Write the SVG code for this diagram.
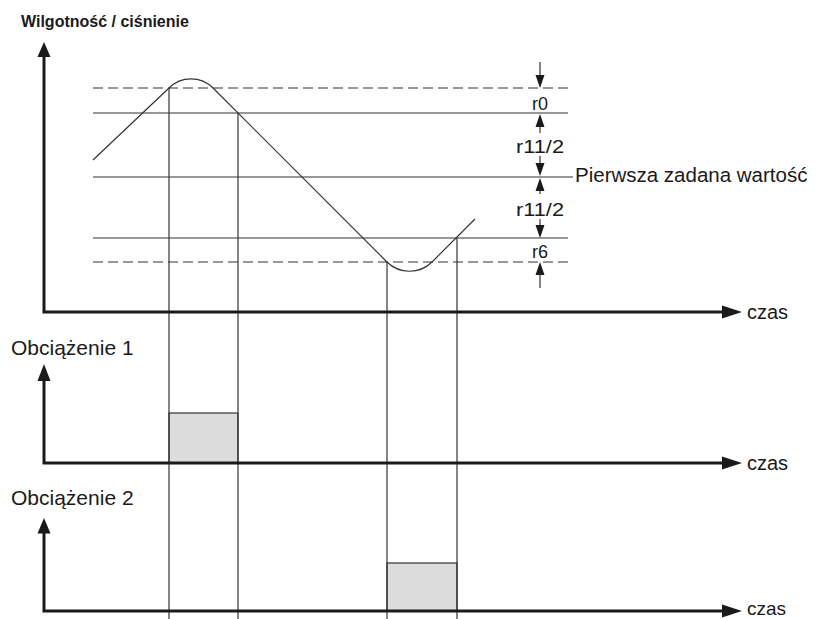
<svg xmlns="http://www.w3.org/2000/svg" width="823" height="619" viewBox="0 0 823 619">
<style>
.thin{stroke:#333333;stroke-width:1.2;fill:none}
.dash{stroke:#333333;stroke-width:1.2;fill:none;stroke-dasharray:10 5}
.axis{stroke:#1a1a1a;stroke-width:3;fill:none}
.lbl{font-family:"Liberation Sans",Arial,sans-serif;fill:#1a1a1a}
.dim{font-family:"Liberation Sans",Arial,sans-serif;font-size:18px;fill:#1a1a1a;text-anchor:middle}
.load{fill:#dcdcdc;stroke:#333333;stroke-width:1.2}
</style>
<defs>
<path id="dh" d="M0,0 L-4.5,-13 L4.5,-13 Z" fill="#1a1a1a"/>
<path id="ah" d="M0,0 L-20,-6.5 L-20,6.5 Z" fill="#1a1a1a"/>
</defs>
<rect width="823" height="619" fill="#ffffff"/>
<g id="title">
<text class="lbl" x="21" y="27" font-size="16" font-weight="bold">Wilgotność / ciśnienie</text>
</g>
<g id="levels">
<line class="dash" x1="93" y1="88" x2="568" y2="88"/>
<line class="thin" x1="93" y1="113" x2="568" y2="113"/>
<line class="thin" x1="93" y1="177" x2="573" y2="177"/>
<line class="thin" x1="93" y1="238" x2="568" y2="238"/>
<line class="dash" x1="93" y1="262" x2="568" y2="262"/>
<text class="lbl" x="575" y="182" font-size="20.5">Pierwsza zadana wartość</text>
</g>
<g id="curve">
<path class="thin" d="M93,160 L169,88 A31,31 0 0 1 213,88 L387,262 A32,32 0 0 0 432,262 L475,219"/>
</g>
<g id="dimensions">
<line class="thin" x1="540" y1="62" x2="540" y2="76"/>
<use href="#dh" x="540" y="88"/>
<text class="dim" x="540" y="110">r0</text>
<use href="#dh" transform="translate(540,114) rotate(180)"/>
<line class="thin" x1="540" y1="126" x2="540" y2="133"/>
<text class="dim" x="540" y="153" textLength="48" lengthAdjust="spacingAndGlyphs">r11/2</text>
<line class="thin" x1="540" y1="156" x2="540" y2="164"/>
<use href="#dh" x="540" y="176"/>
<use href="#dh" transform="translate(540,178) rotate(180)"/>
<line class="thin" x1="540" y1="190" x2="540" y2="194"/>
<text class="dim" x="540" y="216" textLength="48" lengthAdjust="spacingAndGlyphs">r11/2</text>
<line class="thin" x1="540" y1="219" x2="540" y2="226"/>
<use href="#dh" x="540" y="238"/>
<text class="dim" x="540" y="258">r6</text>
<use href="#dh" transform="translate(540,262) rotate(180)"/>
<line class="thin" x1="540" y1="274" x2="540" y2="288"/>
</g>
<g id="loads">
<rect class="load" x="169" y="413" width="69" height="50"/>
<rect class="load" x="387" y="563" width="70" height="48"/>
</g>
<g id="verticals">
<line class="thin" x1="169" y1="88" x2="169" y2="619"/>
<line class="thin" x1="238" y1="113" x2="238" y2="619"/>
<line class="thin" x1="387" y1="262" x2="387" y2="619"/>
<line class="thin" x1="457" y1="238" x2="457" y2="619"/>
</g>
<g id="axis-main">
<path class="axis" d="M44,55 L44,312 L725,312"/>
<use href="#dh" transform="translate(44,42) rotate(180) scale(1.45,1.15)"/>
<use href="#ah" x="742" y="312"/>
<text class="lbl" x="747" y="319" font-size="20">czas</text>
</g>
<g id="axis-load1">
<text class="lbl" x="11" y="355" font-size="21">Obciążenie 1</text>
<path class="axis" d="M44,378 L44,463 L725,463"/>
<use href="#dh" transform="translate(44,364) rotate(180) scale(1.45,1.3)"/>
<use href="#ah" x="742" y="463"/>
<text class="lbl" x="747" y="470" font-size="20">czas</text>
</g>
<g id="axis-load2">
<text class="lbl" x="11" y="505" font-size="21">Obciążenie 2</text>
<path class="axis" d="M44,530 L44,611 L725,611"/>
<use href="#dh" transform="translate(44,518) rotate(180) scale(1.45,1.2)"/>
<use href="#ah" x="742" y="611"/>
<text class="lbl" x="747" y="615" font-size="19">czas</text>
</g>
</svg>
